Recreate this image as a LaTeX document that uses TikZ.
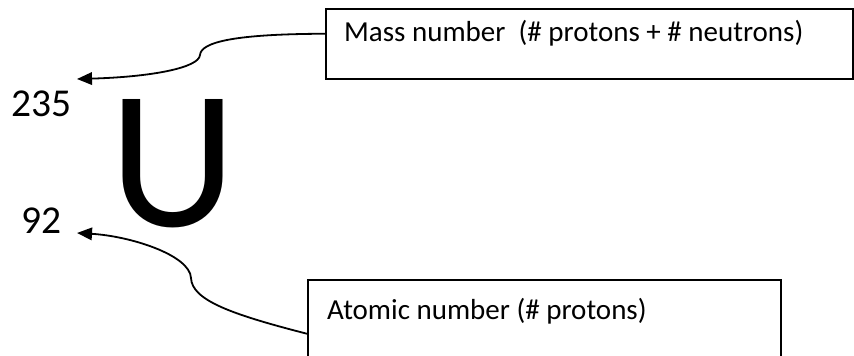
\documentclass[tikz,border=0pt]{standalone}
\usepackage{fontspec}
\setmainfont{Carlito}
\usetikzlibrary{arrows.meta}
\begin{document}
\begin{tikzpicture}[x=1pt,y=-1pt,
  boxstyle/.style={draw=black,line width=1.5pt,minimum width=#1,inner sep=0pt,anchor=north west},
  lbl/.style={font=\fontsize{29}{29}\selectfont,inner sep=0pt,anchor=base west},
  num/.style={font=\fontsize{39.5}{40}\selectfont,inner sep=0pt,anchor=base west},
  conn/.style={line width=1.8pt,-{Triangle[length=15pt,width=12.5pt]}}]
\useasboundingbox (0,0) rectangle (854,356);
\clip (0,0) rectangle (854,356);
% boxes
\node[boxstyle=527pt,minimum height=70pt] (massbox) at (325,8) {};
\node[boxstyle=473pt,minimum height=90pt] (atombox) at (307,279) {};
% labels
\node[lbl] (masstext) at (344,41) {Mass number\ \ (\# protons + \# neutrons)};
\node[lbl] (atomtext) at (327,319) {Atomic number (\# protons)};
% symbol
\node[font=\fontsize{198}{198}\selectfont,inner sep=0pt,anchor=base] (U) at (173.5,226) {U};
\node[num] (mass) at (11,116) {235};
\node[num] (atomic) at (21,233) {92};
% arrow ends
\coordinate (masstip) at (77,79);
\coordinate (atomtip) at (77,233);
% connectors
\draw[conn] ([yshift=10pt]massbox.west) .. controls (235,34) and (201,42) .. (200,55)
  .. controls (199,68) and (150,77) .. (masstip);
\draw[conn] ([yshift=-9pt]atombox.west) .. controls (230,314) and (192,300) .. (191,278)
  .. controls (190,255) and (130,236) .. (atomtip);
\end{tikzpicture}
\end{document}
